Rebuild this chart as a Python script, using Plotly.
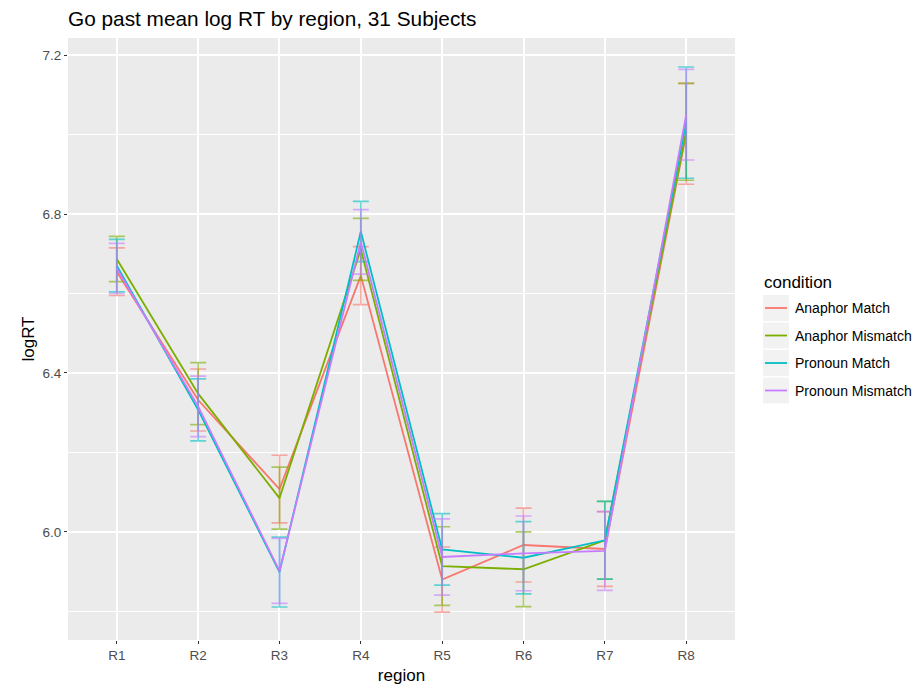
import plotly.graph_objects as go

# Regions and conditions
regions = ["R1", "R2", "R3", "R4", "R5", "R6", "R7", "R8"]
conditions = ["Anaphor Match", "Anaphor Mismatch", "Pronoun Match", "Pronoun Mismatch"]

# Mean log RT per region for each condition
mean_anaphor_match = [6.655, 6.332, 6.108, 6.645, 5.880, 5.967, 5.957, 7.002]
mean_anaphor_mismatch = [6.687, 6.348, 6.085, 6.711, 5.914, 5.906, 5.979, 7.007]
mean_pronoun_match = [6.670, 6.307, 5.899, 6.756, 5.956, 5.935, 5.979, 7.030]
mean_pronoun_mismatch = [6.663, 6.316, 5.902, 6.730, 5.937, 5.946, 5.952, 7.050]

# Error bar half-widths
err_anaphor_match = [0.060, 0.078, 0.085, 0.073, 0.082, 0.093, 0.094, 0.127]
err_anaphor_mismatch = [0.057, 0.078, 0.078, 0.078, 0.099, 0.094, 0.098, 0.122]
err_pronoun_match = [0.066, 0.078, 0.088, 0.076, 0.090, 0.091, 0.098, 0.140]
err_pronoun_mismatch = [0.063, 0.076, 0.082, 0.081, 0.096, 0.094, 0.099, 0.114]

means = [mean_anaphor_match, mean_anaphor_mismatch, mean_pronoun_match, mean_pronoun_mismatch]
errs = [err_anaphor_match, err_anaphor_mismatch, err_pronoun_match, err_pronoun_mismatch]
colors_rgb = [(248, 118, 109), (124, 174, 0), (0, 191, 196), (199, 124, 255)]

W, H = 915, 686
L, R, T, B = 68, 180, 38, 46
PW, PH = W - L - R, H - T - B

FONT = "Liberation Sans, Arial, Helvetica, sans-serif"

fig = go.Figure()
for name, m, e, (r, g, b) in zip(conditions, means, errs, colors_rgb):
    fig.add_trace(go.Scatter(
        x=regions, y=m, name=name, mode="lines",
        line=dict(color=f"rgb({r},{g},{b})", width=1.8),
        error_y=dict(type="data", array=e, visible=True,
                     color=f"rgba({r},{g},{b},0.6)", thickness=1.7, width=8),
        showlegend=False,
    ))


def px_x(px):
    return (px - L) / PW


def px_y(py):
    return (H - B - py) / PH


shapes = []
annotations = []

# Legend: title, grey key boxes, coloured key lines and labels
annotations.append(dict(
    xref="paper", yref="paper", x=px_x(762), y=px_y(282),
    xanchor="left", yanchor="middle", showarrow=False,
    text="condition", font=dict(family=FONT, size=17, color="black")))

box_tops = [295, 322.5, 350, 377.5]
for name, (r, g, b), top in zip(conditions, colors_rgb, box_tops):
    cy = top + 13
    shapes.append(dict(type="rect", xref="paper", yref="paper",
                       x0=px_x(763), x1=px_x(789), y0=px_y(top + 26), y1=px_y(top),
                       fillcolor="#F2F2F2", line=dict(width=0)))
    shapes.append(dict(type="line", xref="paper", yref="paper",
                       x0=px_x(765), x1=px_x(787), y0=px_y(cy), y1=px_y(cy),
                       line=dict(color=f"rgb({r},{g},{b})", width=1.8)))
    annotations.append(dict(
        xref="paper", yref="paper", x=px_x(793), y=px_y(cy),
        xanchor="left", yanchor="middle", showarrow=False,
        text=name, font=dict(family=FONT, size=14, color="black")))

fig.update_layout(
    width=W, height=H,
    margin=dict(l=L, r=R, t=T, b=B),
    paper_bgcolor="white",
    plot_bgcolor="#EBEBEB",
    font=dict(family=FONT, color="black"),
    title=dict(text="Go past mean log RT by region, 31 Subjects",
               x=L / W, xref="container", xanchor="left",
               y=1 - 19 / H, yref="container", yanchor="middle",
               font=dict(family=FONT, size=20.8, color="black")),
    xaxis=dict(
        type="category", categoryorder="array", categoryarray=regions,
        range=[-0.6, 7.6], showgrid=True, gridcolor="white", gridwidth=1.7,
        zeroline=False, showline=False, automargin=False,
        ticks="outside", ticklen=3, tickwidth=1.1, tickcolor="#333333",
        tickfont=dict(family=FONT, size=13.5, color="#4D4D4D"),
        title=dict(text="region", font=dict(family=FONT, size=17, color="black"), standoff=6),
    ),
    yaxis=dict(
        range=[5.728, 7.243], tickvals=[6.0, 6.4, 6.8, 7.2],
        ticktext=["6.0", "6.4", "6.8", "7.2"],
        showgrid=True, gridcolor="white", gridwidth=1.7,
        minor=dict(tickvals=[5.8, 6.2, 6.6, 7.0], showgrid=True,
                   gridcolor="white", gridwidth=0.9, ticks=""),
        zeroline=False, showline=False, automargin=False,
        ticks="outside", ticklen=3, tickwidth=1.1, tickcolor="#333333",
        tickfont=dict(family=FONT, size=13.5, color="#4D4D4D"),
        title=dict(text="logRT", font=dict(family=FONT, size=17, color="black"), standoff=3),
    ),
    shapes=shapes,
    annotations=annotations,
)

fig.write_html("out.html")
